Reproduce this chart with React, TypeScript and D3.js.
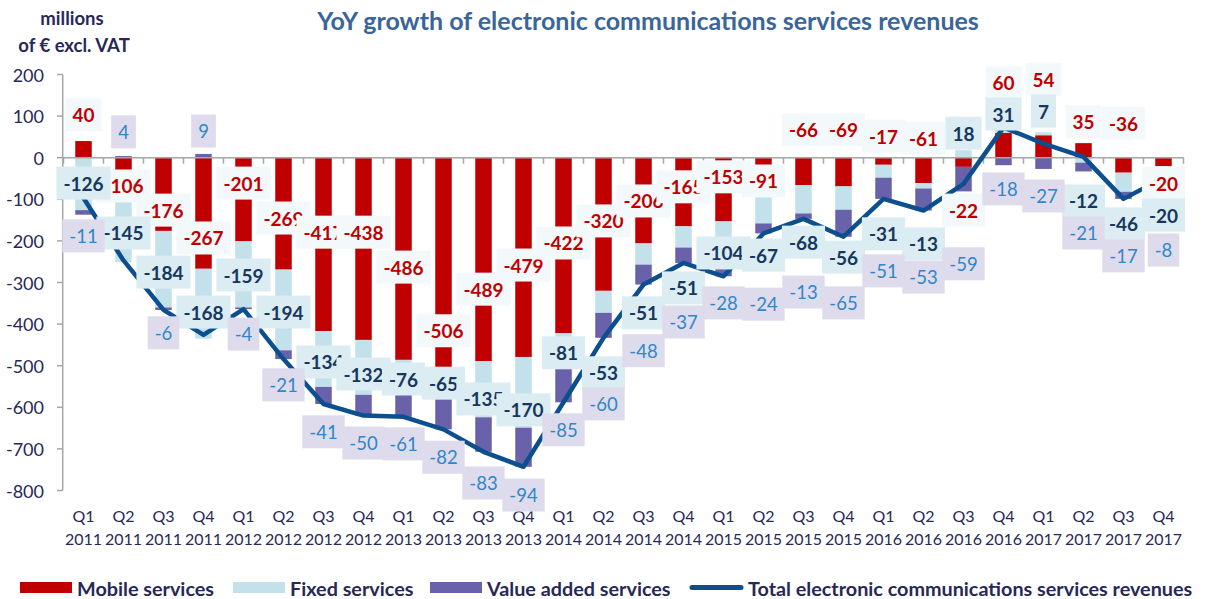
import { useEffect, useRef } from "react";
import * as d3 from "d3";

// quarters Q1 2011 .. Q4 2017
const quarters = ["Q1","Q2","Q3","Q4","Q1","Q2","Q3","Q4","Q1","Q2","Q3","Q4","Q1","Q2","Q3","Q4","Q1","Q2","Q3","Q4","Q1","Q2","Q3","Q4","Q1","Q2","Q3","Q4"];
const years = ["2011","2011","2011","2011","2012","2012","2012","2012","2013","2013","2013","2013","2014","2014","2014","2014","2015","2015","2015","2015","2016","2016","2016","2016","2017","2017","2017","2017"];

const mobile = [40, -106, -176, -267, -201, -269, -417, -438, -486, -506, -489, -479, -422, -320, -206, -165, -153, -91, -66, -69, -17, -61, -22, 60, 54, 35, -36, -20];
const fixed = [-126, -145, -184, -168, -159, -194, -134, -132, -76, -65, -135, -170, -81, -53, -51, -51, -104, -67, -68, -56, -31, -13, 18, 31, 7, -12, -46, -20];
const valueAdded = [-11, 4, -6, 9, -4, -21, -41, -50, -61, -82, -83, -94, -85, -60, -48, -37, -28, -24, -13, -65, -51, -53, -59, -18, -27, -21, -17, -8];

const yTicks = [200, 100, 0, -100, -200, -300, -400, -500, -600, -700, -800];

// where each data label sits, in axis units (labels were placed by hand in the original)
const mobileLabelAt = [103, -68, -126, -193, -61, -145, -179, -179, -263, -416, -316, -258, -205, -152, -104, -70, -46, -56, 67, 67, 52, 47, -126, 180, 189, 86, 83, -61];
const fixedLabelAt = [-61, -181, -275, -371, -282, -371, -491, -520, -532, -542, -580, -606, -469, -517, -373, -313, -229, -234, -203, -239, -183, -207, 59, 105, 112, -104, -159, -138];
const vasLabelAt = [-188, 62, -421, 64, -424, -546, -659, -686, -688, -720, -782, -811, -654, -592, -464, -395, -349, -352, -323, -349, -272, -287, -255, -75, -92, -181, -236, -222];

const FONT = "Lato, 'Open Sans', sans-serif";
const NAVY = "#282858";

export default function App() {
  const ref = useRef<SVGSVGElement>(null);

  useEffect(() => {
    if (!ref.current) return;
    const svg = d3.select(ref.current);
    svg.selectAll("*").remove();

    const n = quarters.length;
    const x = d3.scaleBand<number>().domain(d3.range(n)).range([63.5, 1183.5]);
    const y = d3.scaleLinear().domain([-800, 200]).range([490.5, 74.5]);
    const cx = (i: number) => x(i)! + x.bandwidth() / 2;
    const barW = 16.5;

    const rows = d3.range(n).map(i => ({ mobile: mobile[i], fixed: fixed[i], vas: valueAdded[i] }));
    const keys = ["mobile", "fixed", "vas"];
    const colors: Record<string, string> = { mobile: "#c00000", fixed: "#c2e1ea", vas: "#6961a9" };
    const series = d3.stack<any>().keys(keys).offset(d3.stackOffsetDiverging)(rows);

    svg.selectAll("g.s").data(series).join("g")
      .attr("fill", d => colors[d.key])
      .selectAll("rect").data(d => d).join("rect")
      .attr("x", (_, i) => cx(i) - barW / 2)
      .attr("width", barW)
      .attr("y", d => y(Math.max(d[0], d[1])))
      .attr("height", d => Math.abs(y(d[0]) - y(d[1])));

    // axes
    const axisColor = "#a6a6a6";
    svg.append("line").attr("x1", 62.7).attr("x2", 62.7).attr("y1", y(200)).attr("y2", y(-800))
      .attr("stroke", axisColor).attr("stroke-width", 1.5);
    svg.selectAll("line.yt").data(yTicks).join("line")
      .attr("x1", 57).attr("x2", 62.7).attr("y1", d => y(d)).attr("y2", d => y(d))
      .attr("stroke", axisColor).attr("stroke-width", 1.5);
    svg.selectAll("text.yt").data(yTicks).join("text")
      .attr("x", 44).attr("y", d => y(d)).attr("text-anchor", "end").attr("dominant-baseline", "central")
      .attr("font-family", FONT).attr("font-size", 18).attr("fill", NAVY).text(d => d);

    svg.append("line").attr("x1", 62.7).attr("x2", 1183.5).attr("y1", y(0)).attr("y2", y(0))
      .attr("stroke", axisColor).attr("stroke-width", 1.5);
    svg.selectAll("line.xt").data(d3.range(n + 1)).join("line")
      .attr("x1", i => 63.5 + i * x.step()).attr("x2", i => 63.5 + i * x.step())
      .attr("y1", y(0)).attr("y2", y(0) + 6)
      .attr("stroke", axisColor).attr("stroke-width", 1.5);

    svg.selectAll("text.q").data(quarters).join("text")
      .attr("x", (_, i) => cx(i)).attr("y", 515).attr("text-anchor", "middle").attr("dominant-baseline", "central")
      .attr("font-family", FONT).attr("font-size", 16).attr("fill", NAVY).text(d => d);
    svg.selectAll("text.yr").data(years).join("text")
      .attr("x", (_, i) => cx(i)).attr("y", 538).attr("text-anchor", "middle").attr("dominant-baseline", "central")
      .attr("font-family", FONT).attr("font-size", 16).attr("fill", NAVY).text(d => d);

    // total line
    const total = rows.map(r => r.mobile + r.fixed + r.vas);
    const line = d3.line<number>().x((_, i) => cx(i)).y(d => y(d));
    svg.append("path").attr("d", line(total)!).attr("fill", "none")
      .attr("stroke", "#0c4f8e").attr("stroke-width", 4.5).attr("stroke-linejoin", "round").attr("stroke-linecap", "round");

    // data labels
    const drawLabels = (vals: number[], at: number[], bg: string, fg: string, weight: string, size: number) => {
      vals.forEach((v, i) => {
        const g = svg.append("g");
        const t = g.append("text")
          .attr("x", cx(i)).attr("y", y(at[i])).attr("text-anchor", "middle").attr("dominant-baseline", "central")
          .attr("font-family", FONT).attr("font-size", size).attr("font-weight", weight).attr("fill", fg).text(v);
        const w = (t.node() as SVGTextElement).getComputedTextLength() + 14;
        g.insert("rect", "text").attr("x", cx(i) - w / 2).attr("y", y(at[i]) - 16.5)
          .attr("width", w).attr("height", 33).attr("fill", bg);
      });
    };
    drawLabels(mobile, mobileLabelAt, "#f3f9fb", "#c00000", "700", 19);
    drawLabels(fixed, fixedLabelAt, "#dbedf2", "#17375e", "700", 19);
    drawLabels(valueAdded, vasLabelAt, "#dedcec", "#2f86c9", "400", 18.5);

    // titles
    svg.append("text").attr("x", 648).attr("y", 30).attr("text-anchor", "middle")
      .attr("font-family", FONT).attr("font-size", 25).attr("font-weight", "700").attr("fill", "#3a6599")
      .text("YoY growth of electronic communications services revenues");
    svg.append("text").attr("x", 72).attr("y", 25).attr("text-anchor", "middle")
      .attr("font-family", FONT).attr("font-size", 18.5).attr("font-weight", "700").attr("fill", NAVY).text("millions");
    svg.append("text").attr("x", 74).attr("y", 52).attr("text-anchor", "middle")
      .attr("font-family", FONT).attr("font-size", 18.5).attr("font-weight", "700").attr("fill", NAVY).text("of € excl. VAT");

    // legend
    const legend = [
      { label: "Mobile services", color: colors.mobile, x: 20 },
      { label: "Fixed services", color: colors.fixed, x: 233 },
      { label: "Value added services", color: colors.vas, x: 430 },
    ];
    legend.forEach(l => {
      svg.append("rect").attr("x", l.x).attr("y", 582).attr("width", 52).attr("height", 11).attr("fill", l.color);
      svg.append("text").attr("x", l.x + 57).attr("y", 587.5).attr("dominant-baseline", "central")
        .attr("font-family", FONT).attr("font-size", 19.8).attr("font-weight", "700").attr("fill", NAVY).text(l.label);
    });
    svg.append("line").attr("x1", 692).attr("x2", 741).attr("y1", 587.5).attr("y2", 587.5)
      .attr("stroke", "#0c4f8e").attr("stroke-width", 5).attr("stroke-linecap", "round");
    svg.append("text").attr("x", 748).attr("y", 587.5).attr("dominant-baseline", "central")
      .attr("font-family", FONT).attr("font-size", 19.8).attr("font-weight", "700").attr("fill", NAVY)
      .text("Total electronic communications services revenues");
  }, []);

  return (
    <svg ref={ref} width={1205} height={599} style={{ position: "absolute", left: 0, top: 0, background: "#fff" }} />
  );
}
